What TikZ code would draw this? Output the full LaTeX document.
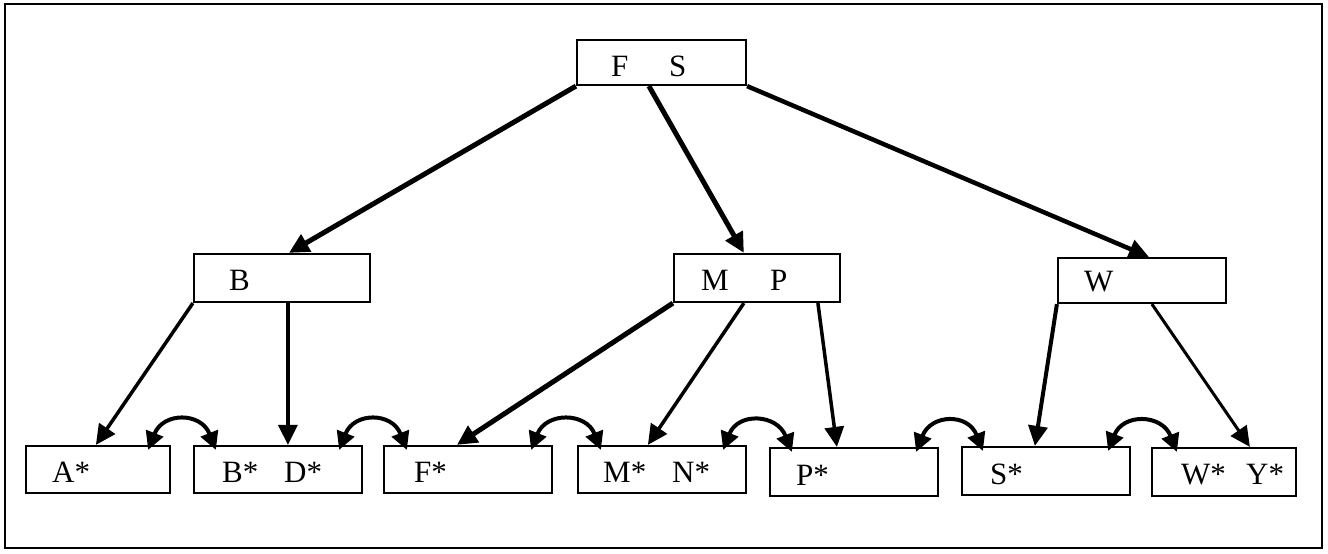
\documentclass[tikz,border=0pt]{standalone}
\usepackage{fontspec}
\setmainfont{Liberation Serif}
\usetikzlibrary{arrows.meta}
\begin{document}
\begin{tikzpicture}[x=1pt,y=-1pt,
  box/.style={draw=black,line width=2.2pt,rectangle,inner sep=0pt},
  lbl/.style={anchor=base west,inner sep=0pt,font=\fontsize{31}{31}\selectfont},
  conn/.style={-{Triangle[length=20pt,width=19pt]},line width=3.5pt},
  link/.style={{Triangle[length=18pt,width=18pt]}-{Triangle[length=18pt,width=18pt]},line width=4pt},
]
\useasboundingbox (0,0) rectangle (1328,554);
\draw[line width=2pt] (5,4) rectangle (1322,548);

% boxes
\node[box,minimum width=169pt,minimum height=45pt] (r) at (661.5,62.5) {};
\node[box,minimum width=176pt,minimum height=48pt] (b) at (282,278) {};
\node[box,minimum width=166pt,minimum height=48pt] (mp) at (757,278) {};
\node[box,minimum width=168pt,minimum height=45pt] (w) at (1142,280.5) {};
\node[box,minimum width=144pt,minimum height=47pt] (a) at (98,469.5) {};
\node[box,minimum width=168pt,minimum height=47pt] (bd) at (278,469.5) {};
\node[box,minimum width=168pt,minimum height=47pt] (f) at (468,469.5) {};
\node[box,minimum width=168pt,minimum height=47pt] (mn) at (662,469.5) {};
\node[box,minimum width=168pt,minimum height=48pt] (p) at (854,472) {};
\node[box,minimum width=168pt,minimum height=48pt] (s) at (1046,471) {};
\node[box,minimum width=144pt,minimum height=48pt] (wy) at (1224,472) {};

% labels
\node[lbl] (tF) at (611,76) {F};
\node[lbl] (tS) at (669,76) {S};
\node[lbl] (tB) at (229,290) {B};
\node[lbl] (tM) at (701,290) {M};
\node[lbl] (tP) at (770,290) {P};
\node[lbl] (tW) at (1084,291) {W};
\node[lbl] (tA1) at (52,482) {A*};
\node[lbl] (tB1) at (222,482) {B*};
\node[lbl] (tD1) at (284,482) {D*};
\node[lbl] (tF1) at (414,482) {F*};
\node[lbl] (tM1) at (603,482) {M*};
\node[lbl] (tN1) at (672,482) {N*};
\node[lbl] (tP1) at (796,485) {P*};
\node[lbl] (tS1) at (990,484) {S*};
\node[lbl] (tW1) at (1181,484) {W*};
\node[lbl] (tY1) at (1246,484) {Y*};

% tree connectors
\draw[conn,line width=5pt] (r.south west) -- ([xshift=96pt]b.north west);
\draw[conn,line width=5pt] ([xshift=73pt]r.south west) -- ([xshift=71pt]mp.north west);
\draw[conn,line width=4.5pt] (r.south east) -- ([xshift=92pt]w.north west);
\draw[conn] (b.south west) -- ([xshift=71pt]a.north west);
\draw[conn] ([xshift=95pt]b.south west) -- ([xshift=95pt]bd.north west);
\draw[conn,line width=5pt] (mp.south west) -- ([xshift=74pt]f.north west);
\draw[conn] ([xshift=71pt]mp.south west) -- ([xshift=71pt]mn.north west);
\draw[conn] ([xshift=145pt]mp.south west) -- ([xshift=68pt]p.north west);
\draw[conn,line width=4pt] (w.south west) -- ([xshift=74pt]s.north west);
\draw[conn,line width=3pt] ([xshift=95pt]w.south west) -- ([xshift=99pt]wy.north west);

% leaf links
\draw[link] ([xshift=-23pt,yshift=-5pt]a.north east) .. controls +(15,-38) and +(-15,-38) .. ([xshift=23pt,yshift=-5pt]bd.north west);
\draw[link] ([xshift=-24pt,yshift=-5pt]bd.north east) .. controls +(15,-38) and +(-15,-38) .. ([xshift=24pt,yshift=-5pt]f.north west);
\draw[link] ([xshift=-22pt,yshift=-5pt]f.north east) .. controls +(15,-38) and +(-15,-38) .. ([xshift=24pt,yshift=-5pt]mn.north west);
\draw[link] ([xshift=-24pt,yshift=-5pt]mn.north east) .. controls +(15,-38) and +(-15,-38) .. ([xshift=23pt,yshift=-5pt]p.north west);
\draw[link] ([xshift=-23pt,yshift=-5pt]p.north east) .. controls +(15,-38) and +(-15,-38) .. ([xshift=22pt,yshift=-5pt]s.north west);
\draw[link] ([xshift=-23pt,yshift=-5pt]s.north east) .. controls +(15,-38) and +(-15,-38) .. ([xshift=26pt,yshift=-5pt]wy.north west);
\end{tikzpicture}
\end{document}
